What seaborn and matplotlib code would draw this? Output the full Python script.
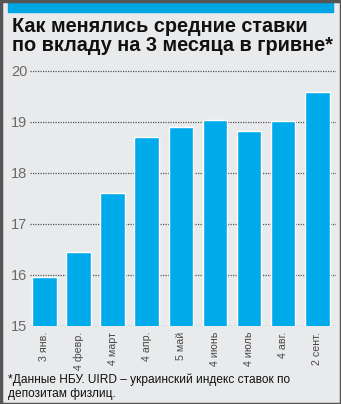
import matplotlib
matplotlib.use("Agg")
import matplotlib.pyplot as plt
import seaborn as sns
import pandas as pd
from matplotlib.patches import Rectangle

categories = ["3 янв.", "4 февр.", "4 март", "4 апр.", "5 май", "4 июнь", "4 июль", "4 авг.", "2 сент."]
values = [15.97, 16.45, 17.61, 18.71, 18.90, 19.03, 18.82, 19.01, 19.58]
yticks = [15, 16, 17, 18, 19, 20]

title = "Как менялись средние ставки\nпо вкладу на 3 месяца в гривне*"
note = "*Данные НБУ. UIRD – украинский индекс ставок по\nдепозитам физлиц."

BG = "#e9eaec"
BLUE = "#00abeb"

sns.set_style("white")
plt.rcParams["font.family"] = ["Liberation Sans", "DejaVu Sans"]

df = pd.DataFrame({"cat": categories, "val": values})

fig = plt.figure(figsize=(3.41, 4.04), dpi=100)
fig.patch.set_facecolor(BG)

ax = fig.add_axes([30 / 341, (404 - 326) / 404, (336 - 30) / 341, 265.2 / 404])
ax.set_facecolor(BG)
sns.barplot(data=df, x="cat", y="val", color=BLUE, width=0.72, saturation=1, ax=ax, zorder=3)

ax.set_ylim(15, 20.2)
ax.set_xlim(-0.42, 8.55)
ax.set_yticks(yticks)
ax.set_yticklabels([str(t) for t in yticks])
for t in yticks:
    ax.axhline(t, color="#555555", lw=0.9, ls=(0, (1, 1)), zorder=1)
for s in ax.spines.values():
    s.set_visible(False)
ax.set_xlabel("")
ax.set_ylabel("")
ax.tick_params(axis="y", length=0, pad=2, labelsize=10.5, labelcolor="#6a6a6a")
ax.tick_params(axis="x", length=0, pad=4, labelsize=7.7, labelcolor="#4a4a4a", rotation=90)

# top blue strip and border
fig.patches.append(Rectangle((8 / 341, 1 - 12 / 404), 325 / 341, 9 / 404,
                             transform=fig.transFigure, color="#00a6e4", zorder=0))
fig.patches.append(Rectangle((0.5 / 341, 0.5 / 404), 340 / 341, 403 / 404, transform=fig.transFigure,
                             fill=False, edgecolor="#555555", lw=2.5, zorder=5))

fig.text(12 / 341, 1 - 17 / 404, title, ha="left", va="top", fontsize=14.3,
         fontweight="bold", color="#111111", linespacing=1.0)
fig.text(8 / 341, 1 - 374 / 404, note, ha="left", va="top", fontsize=8.6,
         color="#111111", linespacing=1.2)

fig.savefig("out.png", dpi=100, facecolor=BG)
